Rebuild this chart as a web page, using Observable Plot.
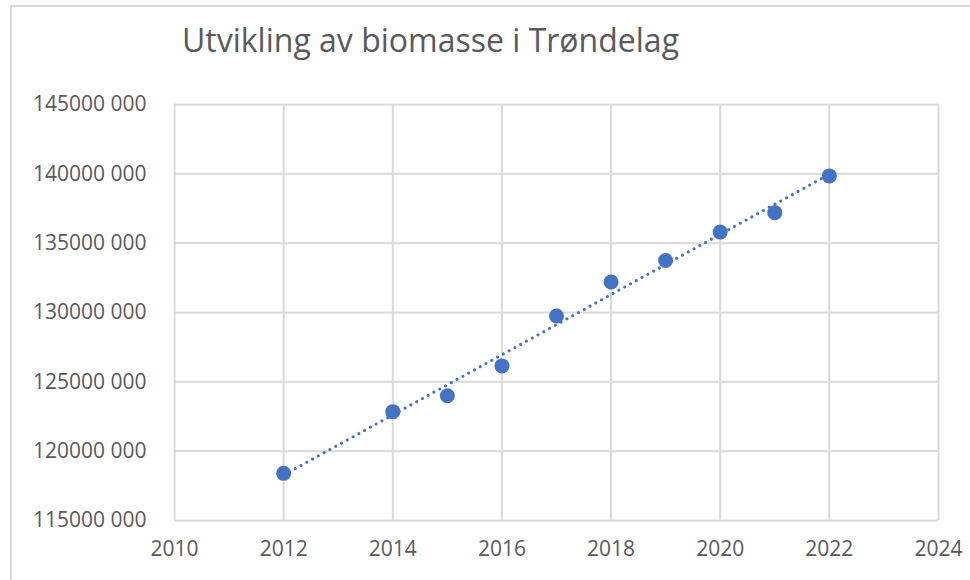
<!DOCTYPE html>
<html>
<head>
<meta charset="utf-8">
<script src="https://cdn.jsdelivr.net/npm/d3@7"></script>
<script src="https://cdn.jsdelivr.net/npm/@observablehq/plot@0.6"></script>
<style>
  html, body { margin: 0; padding: 0; background: #fff; }
  #wrap { position: relative; width: 970px; height: 580px; overflow: hidden; background: #fff; }
  #frame { position: absolute; left: 10px; top: 5px; width: 2000px; height: 2000px;
           border-left: 2px solid #d9d9d9; border-top: 2px solid #d9d9d9; box-sizing: border-box; }
  #title { position: relative; height: 90px; width: 970px; font-family: "Open Sans", sans-serif;
           font-size: 32px; color: #595959; }
  #title span { position: absolute; left: 182px; top: 18px; white-space: pre; }
  #chart { position: relative; }
</style>
</head>
<body>
<div id="wrap">
  <div id="frame"></div>
  <div id="title"><span>Utvikling av biomasse i Trøndelag</span></div>
  <div id="chart"></div>
</div>
<script>
const years = [2012, 2014, 2015, 2016, 2017, 2018, 2019, 2020, 2021, 2022];
const biomass = [118400000, 122850000, 124000000, 126150000, 129750000, 132200000, 133750000, 135800000, 137200000, 139850000];
const xTicks = [2010, 2012, 2014, 2016, 2018, 2020, 2022, 2024];
const yTicks = [115000000, 120000000, 125000000, 130000000, 135000000, 140000000, 145000000];
const yTickLabels = ["115000 000", "120000 000", "125000 000", "130000 000", "135000 000", "140000 000", "145000 000"];

const data = years.map((y, i) => ({year: y, value: biomass[i]}));
const grid = "#d9d9d9";
const blue = "#4472C4";
const textColor = "#595959";

const chart = Plot.plot({
  width: 970,
  height: 490,
  marginLeft: 174,
  marginRight: 32,
  marginTop: 14,
  marginBottom: 60,
  style: {fontFamily: "'Open Sans', sans-serif", fontSize: "21px", color: textColor, background: "transparent"},
  x: {domain: [2010, 2024], ticks: xTicks, tickFormat: d => String(d), tickSize: 0, tickPadding: 21, label: null},
  y: {domain: [115000000, 145000000], ticks: yTicks, tickFormat: d => yTickLabels[yTicks.indexOf(d)], tickSize: 0, tickPadding: 28, label: null},
  marks: [
    Plot.ruleX(xTicks, {stroke: grid, strokeWidth: 2}),
    Plot.ruleY(yTicks, {stroke: grid, strokeWidth: 2}),
    Plot.linearRegressionY(data, {x: "year", y: "value", ci: 0, stroke: blue, strokeWidth: 3, strokeDasharray: "0.1,6.5", strokeLinecap: "round"}),
    Plot.dot(data, {x: "year", y: "value", r: 7.5, fill: blue, stroke: null})
  ]
});
document.getElementById("chart").appendChild(chart);
</script>
</body>
</html>
